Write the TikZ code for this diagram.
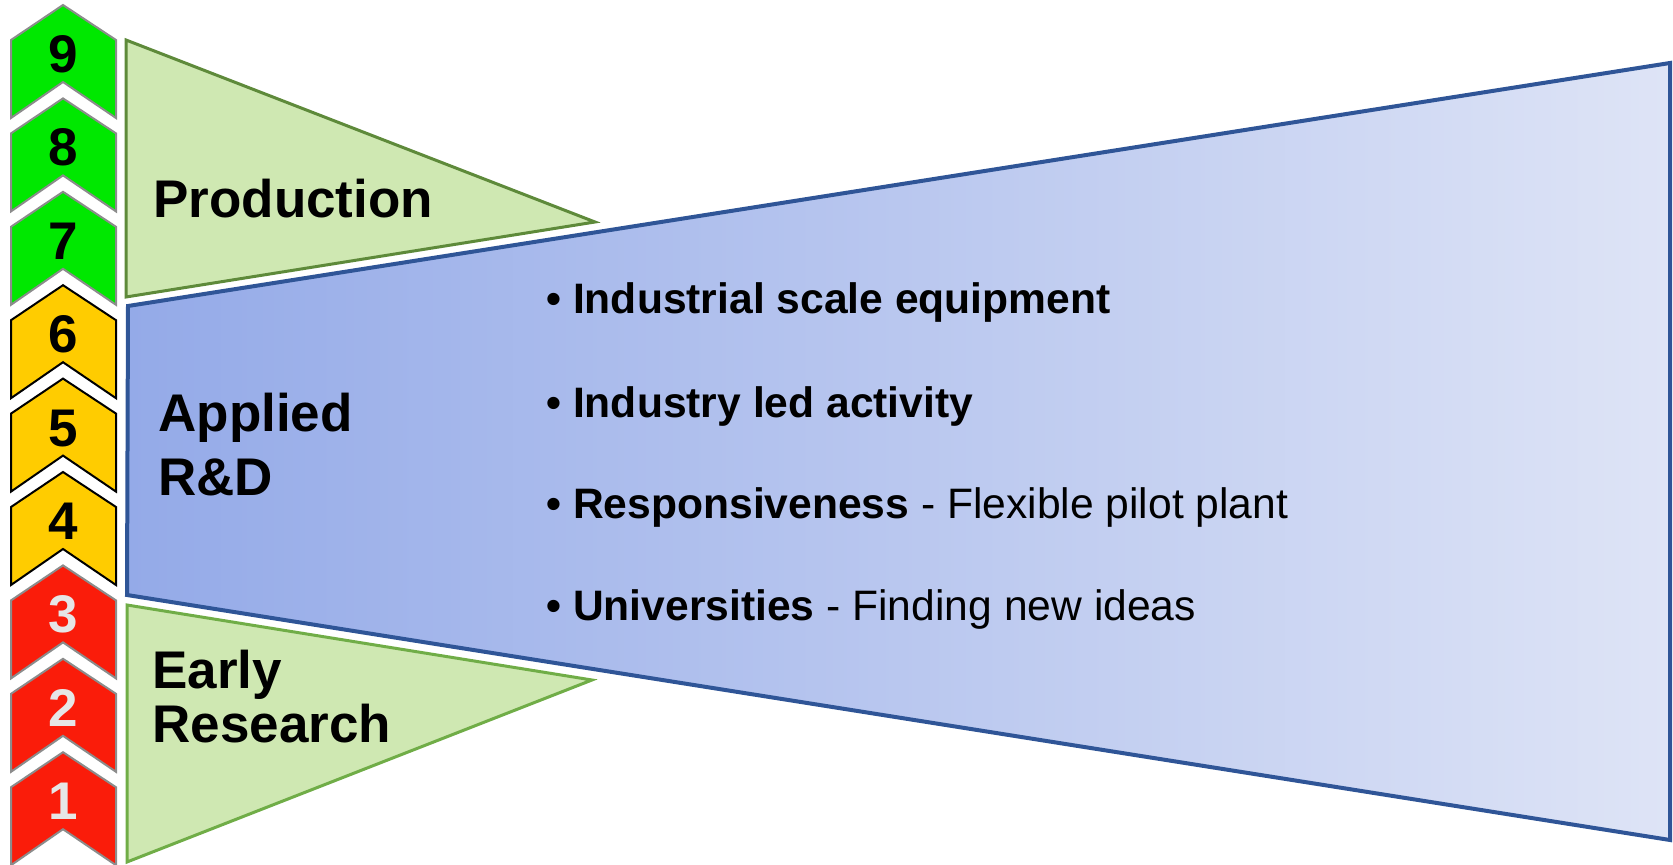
\documentclass[tikz,border=0pt]{standalone}
\usepackage{fontspec}
\setmainfont{Liberation Sans}
\definecolor{chgreen}{RGB}{0,232,0}
\definecolor{chyellow}{RGB}{255,204,0}
\definecolor{chred}{RGB}{250,28,10}
\definecolor{chgray}{RGB}{140,140,140}
\definecolor{digitgray}{RGB}{230,230,230}
\definecolor{trifill}{RGB}{207,232,178}
\definecolor{prodline}{RGB}{94,138,58}
\definecolor{earlyline}{RGB}{112,173,71}
\definecolor{blueline}{RGB}{47,85,151}
\definecolor{blueL}{RGB}{148,170,232}
\definecolor{blueR}{RGB}{222,228,246}
\begin{document}
\begin{tikzpicture}[x=0.5pt,y=-0.5pt,
  chev/.style={line width=1pt, line join=miter},
  digit/.style={anchor=base, inner sep=0pt, font=\fontsize{26.5}{28}\selectfont\bfseries},
  bigtext/.style={anchor=base west, inner sep=0pt, font=\fontsize{26.5}{28}\selectfont\bfseries},
  bul/.style={anchor=base west, inner sep=0pt, font=\fontsize{21.3}{25}\selectfont}]
\useasboundingbox (0,0) rectangle (1673,865);
% chevrons
\foreach \k/\fc/\dc/\tc in {9/chgreen/chgray/black,8/chgreen/chgray/black,7/chgreen/chgray/black,
  6/chyellow/black/black,5/chyellow/black/black,4/chyellow/black/black,
  3/chred/chgray/digitgray,2/chred/chgray/digitgray,1/chred/chgray/digitgray}{
  \pgfmathsetmacro{\t}{5+93.4*(9-\k)}
  \draw[chev, fill=\fc, draw=\dc] (63,\t) -- ++(53,35) -- ++(0,78) -- ++(-53,-36) -- ++(-52,36) -- ++(0,-78) -- cycle;
  \node[digit, text=\tc] (n\k) at (63.5,\t+67.5) {\k};
}
% blue funnel
\shade[left color=blueL, right color=blueR] (128,306) -- (1670,63) -- (1670,840) -- (127,595) -- cycle;
\draw[blueline, line width=2pt, line join=miter] (128,306) -- (1670,63) -- (1670,840) -- (127,595) -- cycle;
% triangles
\draw[fill=trifill, draw=prodline, line width=1.5pt, line join=miter] (126,40) -- (595,222) -- (126,297) -- cycle;
\draw[fill=trifill, draw=earlyline, line width=1.5pt, line join=miter] (127,605) -- (592,680) -- (127,862) -- cycle;
% labels
\node[bigtext] (prod) at (153,218) {Production};
\node[bigtext] (app1) at (158,431) {Applied};
\node[bigtext] (app2) at (158,495) {R\&D};
\node[bigtext] (ear1) at (152,688) {Early};
\node[bigtext] (ear2) at (152,742) {Research};
% bullets
\node[bul] (b1) at (546,314) {\textbf{• Industrial scale equipment}};
\node[bul] (b2) at (546,417) {\textbf{• Industry led activity}};
\node[bul] (b3) at (546,518) {\textbf{• Responsiveness} - Flexible pilot plant};
\node[bul] (b4) at (546,620) {\textbf{• Universities} - Finding new ideas};
\end{tikzpicture}
\end{document}
